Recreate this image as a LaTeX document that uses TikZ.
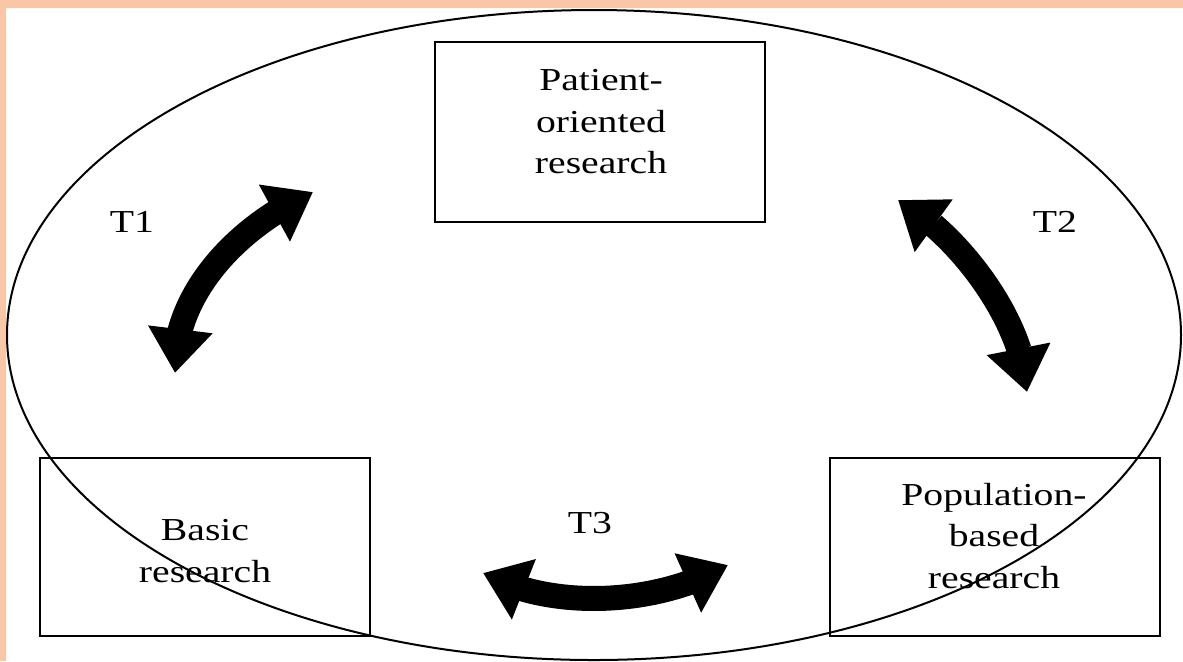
\documentclass[tikz,border=0pt]{standalone}
\usepackage{fontspec}
\newfontfamily\labfont[FakeStretch=1.24]{Liberation Serif}
\usetikzlibrary{arrows.meta,bending}
\definecolor{peach}{RGB}{250,199,166}
\tikzset{
  box/.style={draw=black, line width=1.2pt, rectangle, inner sep=0pt, minimum width=165pt},
  txt/.style={font=\labfont\fontsize{16}{20.75}\selectfont, align=center, inner sep=0pt},
  tarrow/.style={line width=12.5pt, black,
    {Triangle[length=22pt,width=31pt]}-{Triangle[length=22pt,width=31pt]}},
}
\begin{document}
\begin{tikzpicture}[x=0.5pt,y=-0.5pt]
\useasboundingbox (0,0) rectangle (1183,661);
\fill[peach] (0,0) rectangle (1183,661);
\fill[white] (6,8) rectangle (1183,661);
% ellipse
\draw[line width=1pt] (594,335) ellipse [x radius=587, y radius=325];
% boxes
\node[box, minimum height=90pt] (por) at (600,132) {};
\node[box, minimum height=89pt] (br) at (205,547) {};
\node[box, minimum height=89pt] (pbr) at (995,547) {};
\node[txt] (port) at (601,122) {Patient-\\oriented\\research};
\node[txt] (brt) at (205,551) {Basic\\research};
\node[txt] (pbrt) at (994,536) {Population-\\based\\research};
% labels
\node[txt, anchor=base] (t1) at (132,232) {T1};
\node[txt, anchor=base] (t2) at (1055,232) {T2};
\node[txt, anchor=base] (t3) at (590,533) {T3};
% arrows
\coordinate (a1s) at (175,373);
\coordinate (a1e) at (313,192);
\coordinate (a2s) at (898,200);
\coordinate (a2e) at (1027,392);
\coordinate (a3s) at (483,573);
\coordinate (a3e) at (728,565);
\draw[tarrow] (a1s) .. controls (172,300) and (230,230) .. (a1e);
\draw[tarrow] (a2s) .. controls (958,233) and (1025,322) .. (a2e);
\draw[tarrow] (a3s) .. controls (553,611) and (658,605) .. (a3e);
\end{tikzpicture}
\end{document}
